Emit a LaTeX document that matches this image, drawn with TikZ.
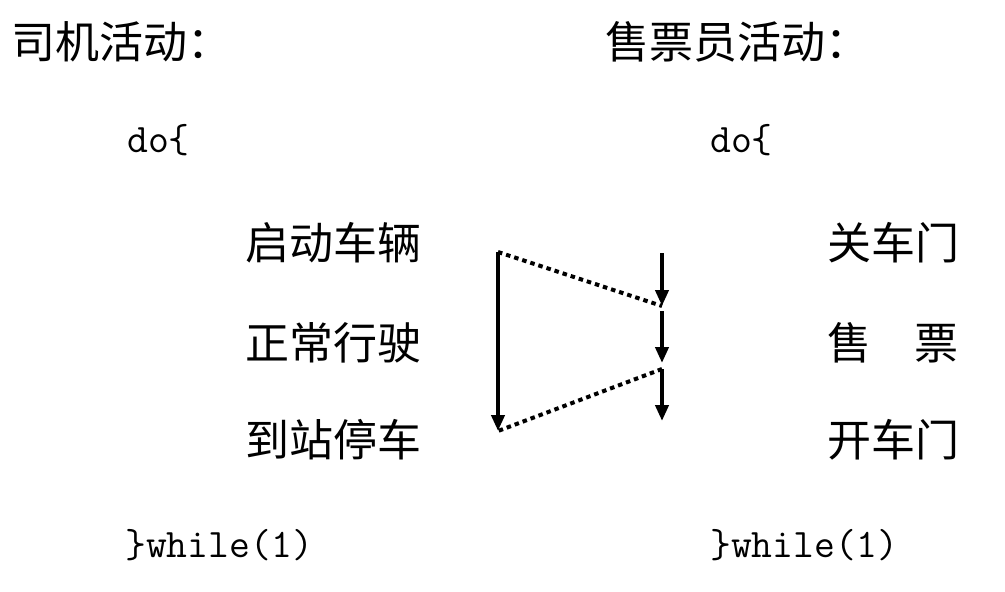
\documentclass[tikz,border=0pt]{standalone}
\usepackage{fontspec}
\setmainfont{Noto Sans CJK SC}
\usetikzlibrary{arrows.meta}
\tikzset{
  cjk/.style={anchor=west,inner sep=0pt,font=\fontsize{44}{48}\selectfont},
  code/.style={anchor=west,inner sep=0pt,font=\fontsize{40.5}{44}\ttfamily},
  flow/.style={line width=4pt,-{Triangle[length=16pt,width=13pt]}},
  link/.style={line width=4pt,dash pattern=on 4.5pt off 4pt}
}
\begin{document}
\begin{tikzpicture}[x=1pt,y=-1pt]
\useasboundingbox (0,0) rectangle (1005,592);
\node[cjk] (h1) at (11,42) {司机活动：};
\node[cjk] (h2) at (605,42) {售票员活动：};
\node[code] (do1) at (127,140) {do\{};
\node[code] (do2) at (710,140) {do\{};
\node[cjk] (a1) at (245,243) {启动车辆};
\node[cjk] (a2) at (245,343) {正常行驶};
\node[cjk] (a3) at (245,440) {到站停车};
\node[cjk] (b1) at (827,243) {关车门};
\node[cjk] (b2) at (827,343) {售\hspace{43pt}票};
\node[cjk] (b3) at (827,440) {开车门};
\node[code] (w1) at (125,545) {\}while(1)};
\node[code] (w2) at (710,545) {\}while(1)};
\coordinate (l1) at (498,252);
\coordinate (l2) at (498,431);
\coordinate (r1) at (662,253);
\coordinate (r2) at (662,306);
\coordinate (r3) at (662,311);
\coordinate (r4) at (662,363);
\coordinate (r5) at (662,369);
\coordinate (r6) at (662,421);
\draw[flow] (l1) -- (l2);
\draw[flow] (r1) -- (r2);
\draw[flow] (r3) -- (r4);
\draw[flow] (r5) -- (r6);
\draw[link] (l1) -- (r2);
\draw[link] (r5) -- (l2);
\end{tikzpicture}
\end{document}
